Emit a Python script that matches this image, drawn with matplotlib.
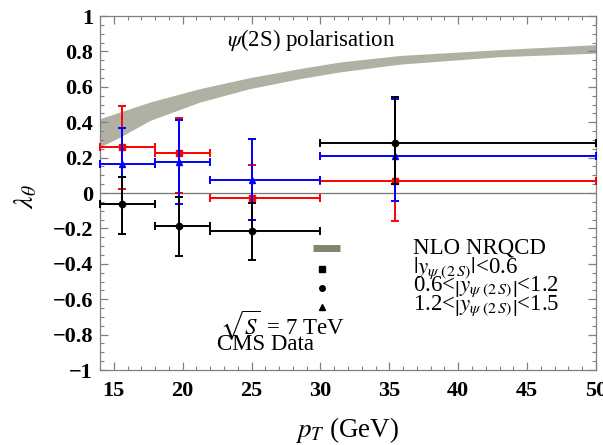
import matplotlib

matplotlib.use("Agg")
import matplotlib.pyplot as plt
from matplotlib.ticker import FuncFormatter, MultipleLocator

plt.rcParams["font.family"] = ["Liberation Serif", "DejaVu Serif"]
plt.rcParams["mathtext.fontset"] = "stix"

# bins in pT (GeV)
BIN_LO = [14, 18, 22, 30]
BIN_HI = [18, 22, 30, 50]

# |y| < 0.6  (red squares)
RED_X = [15.6, 19.7, 25.0, 35.4]
RED_Y = [0.258, 0.226, -0.026, 0.067]
RED_UP = [0.49, 0.426, 0.156, 0.28]
RED_DN = [0.02, 0.002, -0.15, -0.158]

# 0.6 < |y| < 1.2  (black circles)
BLK_X = [15.6, 19.7, 25.0, 35.4]
BLK_Y = [-0.064, -0.188, -0.216, 0.28]
BLK_UP = [0.09, -0.02, -0.056, 0.54]
BLK_DN = [-0.23, -0.357, -0.376, 0.05]

# 1.2 < |y| < 1.5  (blue triangles)
BLU_X = [15.6, 19.7, 25.0, 35.4]
BLU_Y = [0.162, 0.177, 0.072, 0.21]
BLU_UP = [0.37, 0.41, 0.307, 0.53]
BLU_DN = [-0.064, -0.06, -0.154, -0.045]

# NLO NRQCD band
BAND_PT = [14.0, 15.45, 17.63, 21.26, 24.89, 28.5, 31.4, 35.77, 43.0, 50.0]
BAND_LO = [0.26, 0.316, 0.41, 0.514, 0.59, 0.646, 0.684, 0.728, 0.77, 0.79]
BAND_HI = [0.42, 0.458, 0.514, 0.59, 0.652, 0.703, 0.74, 0.777, 0.81, 0.838]

LEGEND_LABELS = [
    "NLO NRQCD",
    r"$|y_{\psi\ (2\,S)}|$<0.6",
    r"0.6<$\left|y_{\psi\ (2\,S)}\right|$<1.2",
    r"1.2<$\left|y_{\psi\ (2\,S)}\right|$<1.5",
]

BAND_COLOR = "#b1b1a3"
KEY_COLOR = "#84846e"


def series(ax, xs, ys, up, dn, color, marker, z):
    xerr = [[x - lo for x, lo in zip(xs, BIN_LO)], [hi - x for x, hi in zip(xs, BIN_HI)]]
    yerr = [[y - d for y, d in zip(ys, dn)], [u - y for y, u in zip(ys, up)]]
    ax.errorbar(xs, ys, xerr=xerr, yerr=yerr, fmt=marker, color=color, ms=4.5,
                elinewidth=1.4, capsize=3, capthick=1.4, zorder=z, clip_on=False)


def fmt(v, _):
    s = f"{round(v, 6):g}"
    if s in ("-0", "0"):
        return "0"
    return s.replace("-", "\u2212")


fig = plt.figure(figsize=(6.03, 4.45), dpi=100)
ax = fig.add_axes([100 / 603, 1 - 370 / 445, 496 / 603, 354 / 445])

ax.fill_between(BAND_PT, BAND_LO, BAND_HI, color=BAND_COLOR, lw=0, zorder=1)
ax.axhline(0, color="#777777", lw=0.9, zorder=1.5)

series(ax, RED_X, RED_Y, RED_UP, RED_DN, "red", "s", 3)
series(ax, BLU_X, BLU_Y, BLU_UP, BLU_DN, "blue", "^", 4)
series(ax, BLK_X, BLK_Y, BLK_UP, BLK_DN, "black", "o", 5)

ax.set_xlim(14, 50)
ax.set_ylim(-1, 1)
ax.xaxis.set_major_locator(MultipleLocator(5))
ax.xaxis.set_minor_locator(MultipleLocator(1))
ax.yaxis.set_major_locator(MultipleLocator(0.2))
ax.yaxis.set_minor_locator(MultipleLocator(0.05))
ax.xaxis.set_major_formatter(FuncFormatter(fmt))
ax.yaxis.set_major_formatter(FuncFormatter(fmt))
ax.tick_params(which="both", direction="in", top=True, right=True, color="#808080")
ax.tick_params(which="major", length=6, width=0.9)
ax.tick_params(which="minor", length=3, width=0.8)
ax.tick_params(axis="x", pad=8)
ax.tick_params(axis="y", pad=5)
for lab in ax.get_xticklabels() + ax.get_yticklabels():
    lab.set_fontweight("bold")
    lab.set_fontsize(16)
for sp in ax.spines.values():
    sp.set_color("#808080")
    sp.set_linewidth(0.9)

ax.text(23.2, 0.863, r"$\psi$(2S) polarisation", fontsize=16.5, ha="left", va="center")
ax.text(22.7, -0.752, r"$\sqrt{S}\,$ = 7 TeV", fontsize=16.5, ha="left", va="center")
ax.text(22.5, -0.858, "CMS Data", fontsize=16.5, ha="left", va="center")

# legend keys and labels
key_y = [-0.313, -0.431, -0.537, -0.646]
ax.plot([29.45, 31.45], [key_y[0]] * 2, color=KEY_COLOR, lw=5, solid_capstyle="butt")
for yk, mk in zip(key_y[1:], ["s", "o", "^"]):
    ax.plot([30.1], [yk], mk, color="black", ms=4)
text_y = [-0.31, -0.425, -0.535, -0.64]
for yt, lab in zip(text_y, LEGEND_LABELS):
    ax.text(36.7, yt, lab, fontsize=16.5, ha="left", va="center")

fig.text(26 / 603, 1 - 197 / 445, r"$\lambda_\theta$", fontsize=20, rotation=90,
         ha="center", va="center")
fig.text(347 / 603, 1 - 430 / 445, r"$p_T$ (GeV)", fontsize=19.5, ha="center", va="center")

fig.savefig("out.png", dpi=100)
